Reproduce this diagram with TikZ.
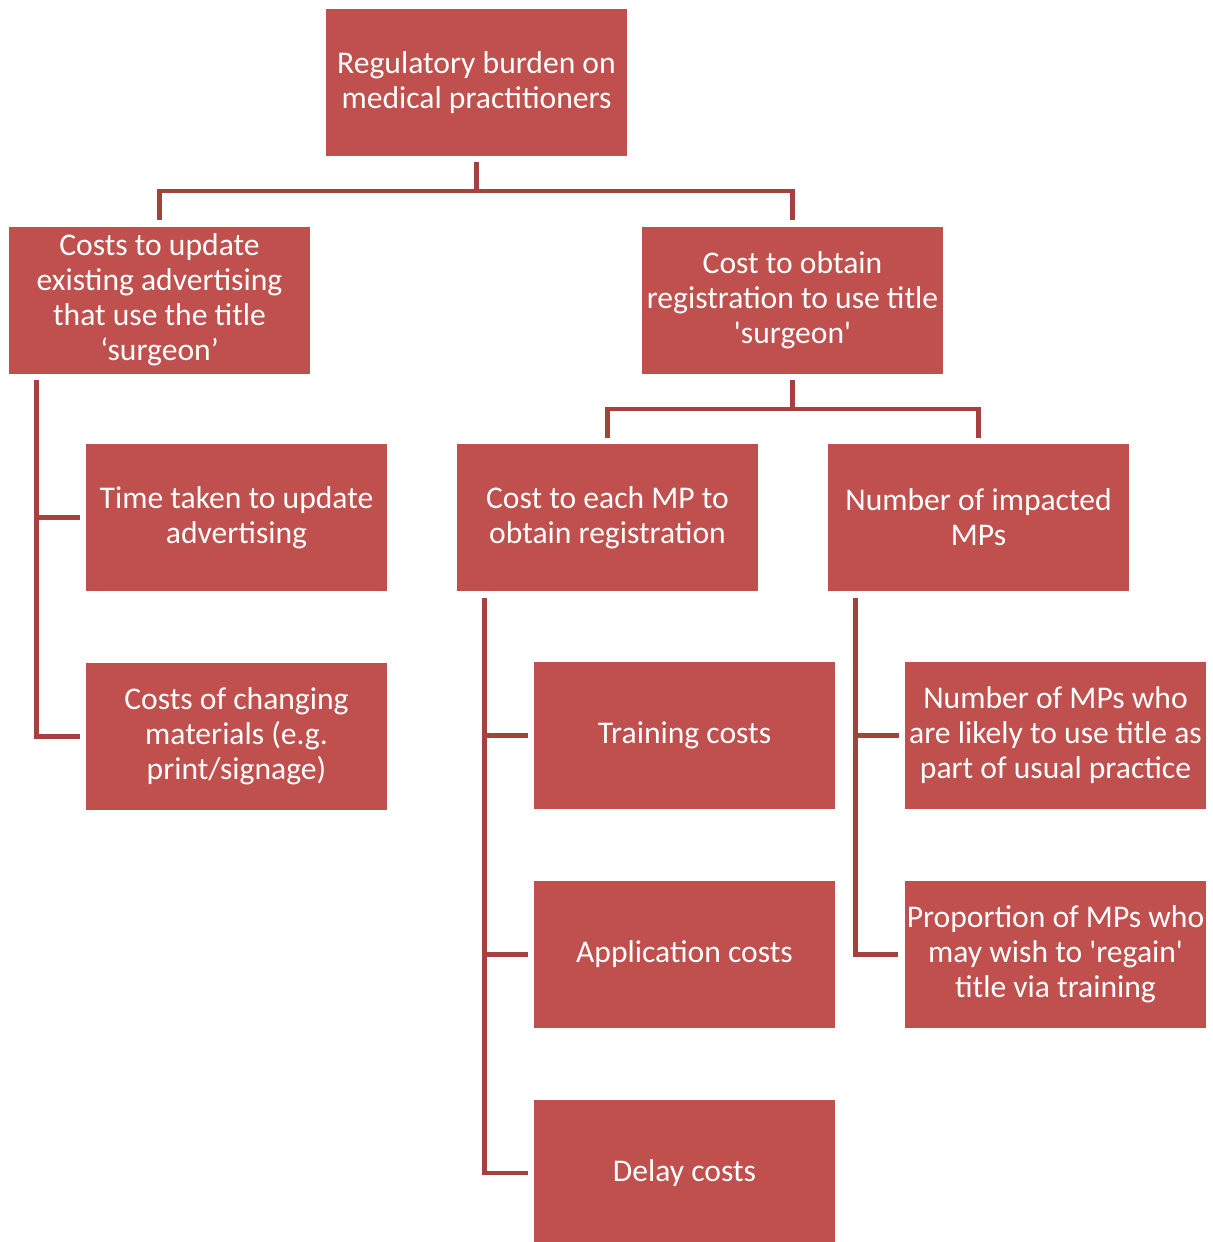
\documentclass[tikz,border=0pt]{standalone}
\usepackage{fontspec}
\setmainfont{Carlito}
\usepackage{xcolor}
\usepackage{tikz}
\usetikzlibrary{positioning,calc}
\definecolor{boxred}{HTML}{C0504D}
\definecolor{linkred}{HTML}{A5423F}
\newcommand{\sq}{\textquotesingle}

\begin{document}
\begin{tikzpicture}[
  x=0.5pt, y=-0.5pt,
  font=\fontsize{15.8}{17.5}\selectfont,
  box/.style={fill=boxred, text=white, align=center, minimum width=150.5pt, minimum height=73.5pt, inner sep=1pt},
  link/.style={draw=linkred, line width=2.2pt},
]
\useasboundingbox (0,0) rectangle (1213,1242);
\node[box] (root) at (476.5,82.5) {Regulatory burden on\\medical practitioners};
\node[box] (c1) at (159.5,300) {Costs to update\\existing advertising\\that use the title\\‘surgeon’};
\node[box] (c2) at (792.5,300) {Cost to obtain\\registration to use title\\\sq surgeon\sq};
\node[box] (a1) at (236.5,517.5) {Time taken to update\\advertising};
\node[box, below=35.5pt of a1] (a2) {Costs of changing\\materials (e.g.\\print/signage)};
\node[box] (b1) at (607.5,517.5) {Cost to each MP to\\obtain registration};
\node[box] (b2) at (978.5,517.5) {Number of impacted\\MPs};
\node[box] (t1) at (684.5,735.5) {Training costs};
\node[box, below=35.5pt of t1] (t2) {Application costs};
\node[box, below=35.5pt of t2] (t3) {Delay costs};
\node[box] (n1) at (1055.5,735.5) {Number of MPs who\\are likely to use title as\\part of usual practice};
\node[box, below=35.5pt of n1] (n2) {Proportion of MPs who\\may wish to \sq regain\sq\\title via training};
% top level
\coordinate (j0) at ($(root.south)!0.5!(root.south |- c1.north)$);
\draw[link] ([yshift=-3pt]root.south) -- (j0);
\draw[link] ([yshift=3pt]c1.north) |- (j0) -| ([yshift=3pt]c2.north);
% second level
\coordinate (j1) at ($(c2.south)!0.5!(c2.south |- b1.north)$);
\draw[link] ([yshift=-3pt]c2.south) -- (j1);
\draw[link] ([yshift=3pt]b1.north) |- (j1) -| ([yshift=3pt]b2.north);
% side branches
\foreach \l in {a1,a2} \draw[link] ([xshift=14pt,yshift=-3pt]c1.south west) |- ([xshift=-3pt]\l.west);
\foreach \l in {t1,t2,t3} \draw[link] ([xshift=14pt,yshift=-3.5pt]b1.south west) |- ([xshift=-3pt]\l.west);
\foreach \l in {n1,n2} \draw[link] ([xshift=14pt,yshift=-3.5pt]b2.south west) |- ([xshift=-3pt]\l.west);
\end{tikzpicture}
\end{document}
